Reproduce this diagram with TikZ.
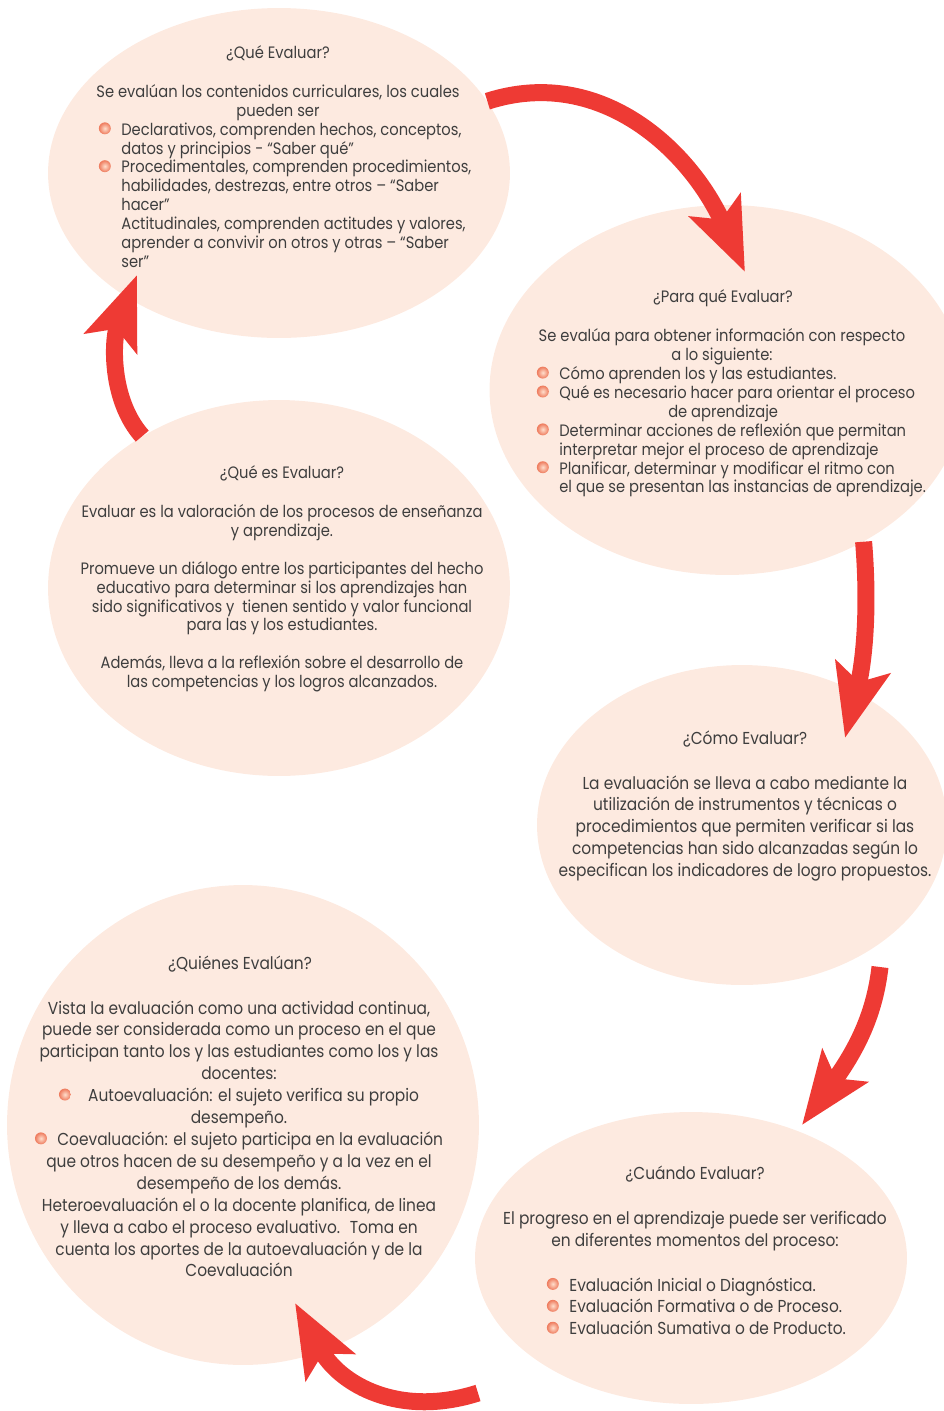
\documentclass[tikz,border=0pt]{standalone}
\usepackage{fontspec}
\setmainfont{Poppins}[FakeStretch=0.89]
\usetikzlibrary{arrows.meta,shapes.geometric}

\definecolor{rosa}{RGB}{253,234,224}
\definecolor{rojo}{RGB}{238,58,52}
\definecolor{bolacolor}{RGB}{238,122,92}
\definecolor{bolabrillo}{RGB}{255,222,204}
\definecolor{gris}{RGB}{62,62,62}

\newcommand{\bolita}{\tikz[baseline=-0.75ex]\shade[inner color=bolabrillo, outer color=bolacolor] (0,0) circle (3.4pt);}
\newcommand{\conbola}{\leavevmode\llap{\bolita\hspace{6pt}}}

\begin{document}
\begin{tikzpicture}[x=0.02cm, y=-0.02cm,
  globo/.style={ellipse, fill=rosa, inner sep=0pt},
  flecha/.style={draw=rojo, line width=0.34cm, -{Stealth[length=1.45cm, width=1.1cm, inset=0.3cm]}},
  texto/.style={text=gris, inner sep=0pt, font=\fontsize{9.4}{10.77}\selectfont},
  textog/.style={text=gris, inner sep=0pt, font=\fontsize{9.85}{12.47}\selectfont}]

\useasboundingbox (0,0) rectangle (944,1411);

% globos
\node[globo, minimum width=9.24cm, minimum height=6.6cm] (que) at (279,173) {};
\node[globo, minimum width=9.5cm, minimum height=7.4cm] (para) at (727,390) {};
\node[globo, minimum width=9.24cm, minimum height=7.52cm] (quees) at (279,588) {};
\node[globo, minimum width=8.2cm, minimum height=6.4cm] (como) at (742,825) {};
\node[globo, minimum width=9.44cm, minimum height=9.6cm] (quienes) at (243,1125) {};
\node[globo, minimum width=8.64cm, minimum height=5.84cm] (cuando) at (691,1258) {};

% flechas
\coordinate (fin1) at (745,272);
\coordinate (fin2) at (845,738);
\coordinate (ini3) at (880,967);
\coordinate (fin3) at (802,1125);
\coordinate (ini4) at (478,1393);
\coordinate (fin4) at (295,1303);
\coordinate (fin5) at (137,275);

\draw[flecha] (que.19) .. controls (600,65) and (690,150) .. (fin1);
\draw[flecha] (para.-48) .. controls (870,620) and (862,670) .. (fin2);
\draw[flecha] (ini3) .. controls (875,1010) and (860,1045) .. (fin3);
\draw[flecha] (ini4) .. controls (400,1418) and (340,1385) .. (fin4);
\draw[flecha] (quees.132) .. controls (110,400) and (112,340) .. (fin5);

% ¿Qué Evaluar?
\node[texto] (que-t) at (278,53) {¿Qué Evaluar?};
\node[texto, anchor=north, align=center] (que-i) at (278,84) {Se evalúan los contenidos curriculares, los cuales\\pueden ser};
\node[texto, anchor=north west, align=left] (que-l) at (121,122) {\conbola Declarativos, comprenden hechos, conceptos,\\
datos y principios - “Saber qué”\\
\conbola Procedimentales, comprenden procedimientos,\\
habilidades, destrezas, entre otros – “Saber\\
hacer”\\
Actitudinales, comprenden actitudes y valores,\\
aprender a convivir on otros y otras – “Saber\\
ser”};

% ¿Para qué Evaluar?
\node[texto] (para-t) at (723,298) {¿Para qué Evaluar?};
\node[texto, anchor=north, align=center] (para-i) at (722,328) {Se evalúa para obtener información con respecto\\a lo siguiente:};
\node[texto, anchor=north west, align=left] (para-l) at (559,366) {\conbola Cómo aprenden los y las estudiantes.\\
\conbola Qué es necesario hacer para orientar el proceso\\
\hspace*{62pt}de aprendizaje\\
\conbola Determinar acciones de reflexión que permitan\\
interpretar mejor el proceso de aprendizaje\\
\conbola Planificar, determinar y modificar el ritmo con\\
el que se presentan las instancias de aprendizaje.};

% ¿Qué es Evaluar?
\node[texto] (quees-t) at (282,473) {¿Qué es Evaluar?};
\node[texto, anchor=north, align=center] (quees-c) at (282,504) {Evaluar es la valoración de los procesos de enseñanza\\
y aprendizaje.\\[10.77pt]
Promueve un diálogo entre los participantes del hecho\\
educativo para determinar si los aprendizajes han\\
sido significativos y \ tienen sentido y valor funcional\\
para las y los estudiantes.\\[10.77pt]
Además, lleva a la reflexión sobre el desarrollo de\\
las competencias y los logros alcanzados.};

% ¿Cómo Evaluar?
\node[textog] (como-t) at (745,739) {¿Cómo Evaluar?};
\node[textog, anchor=north, align=center] (como-c) at (745,775) {La evaluación se lleva a cabo mediante la\\
utilización de instrumentos y técnicas o\\
procedimientos que permiten verificar si las\\
competencias han sido alcanzadas según lo\\
especifican los indicadores de logro propuestos.};

% ¿Quiénes Evalúan?
\node[textog] (quienes-t) at (240,964) {¿Quiénes Evalúan?};
\node[textog, anchor=north, align=center] (quienes-c) at (239,1000) {Vista la evaluación como una actividad continua,\\
puede ser considerada como un proceso en el que\\
participan tanto los y las estudiantes como los y las\\
docentes:\\
\bolita\hspace{1em}Autoevaluación: el sujeto verifica su propio\\
desempeño.\\
\bolita\hspace{0.6em}Coevaluación: el sujeto participa en la evaluación\\
que otros hacen de su desempeño y a la vez en el\\
desempeño de los demás.\\
Heteroevaluación el o la docente planifica, de linea\\
y lleva a cabo el proceso evaluativo. \ Toma en\\
cuenta los aportes de la autoevaluación y de la\\
Coevaluación};

% ¿Cuándo Evaluar?
\node[textog] (cuando-t) at (695,1174) {¿Cuándo Evaluar?};
\node[textog, anchor=north, align=center] (cuando-i) at (695,1211) {El progreso en el aprendizaje puede ser verificado\\en diferentes momentos del proceso:};
\node[textog, anchor=north west, align=left] (cuando-l) at (569,1277) {\conbola Evaluación Inicial o Diagnóstica.\\
\conbola Evaluación Formativa o de Proceso.\\
\conbola Evaluación Sumativa o de Producto.};
\end{tikzpicture}
\end{document}
